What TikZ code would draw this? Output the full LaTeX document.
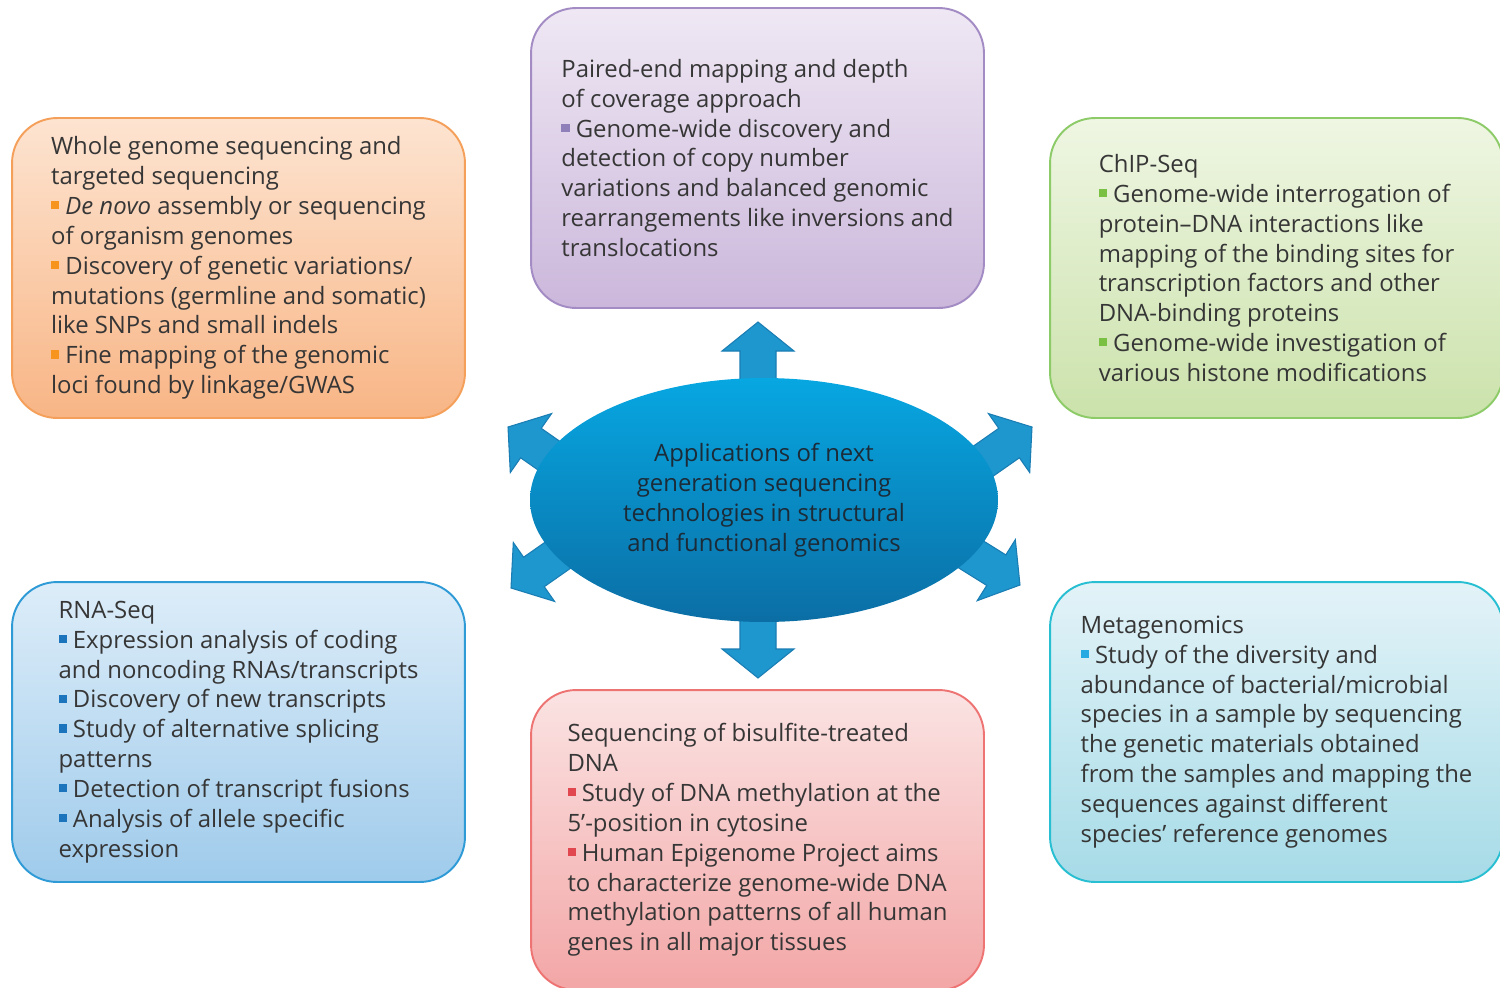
\documentclass[tikz,border=0pt]{standalone}
\usepackage{fontspec}
\setmainfont{Open Sans}
\usepackage{xcolor}
\usepackage{tikz}
\usetikzlibrary{positioning,shapes.geometric}
\definecolor{ngsTxt}{HTML}{363636}
\definecolor{ngsHubTxt}{HTML}{1C2B38}
\definecolor{ngsOr1}{HTML}{FDE4D1}
\definecolor{ngsOr2}{HTML}{F8B585}
\definecolor{ngsOr3}{HTML}{F5A05A}
\definecolor{ngsOrB}{HTML}{F7941E}
\definecolor{ngsPu1}{HTML}{EFE8F4}
\definecolor{ngsPu2}{HTML}{CBB7DB}
\definecolor{ngsPu3}{HTML}{A38BC4}
\definecolor{ngsPuB}{HTML}{8F80BA}
\definecolor{ngsGr1}{HTML}{EFF6E3}
\definecolor{ngsGr2}{HTML}{CBE2AB}
\definecolor{ngsGr3}{HTML}{8CCB68}
\definecolor{ngsGrB}{HTML}{7AC143}
\definecolor{ngsBl1}{HTML}{DDEDF9}
\definecolor{ngsBl2}{HTML}{9FCBEB}
\definecolor{ngsBl3}{HTML}{2E9AD6}
\definecolor{ngsBlB}{HTML}{1C75BC}
\definecolor{ngsPk1}{HTML}{FBE3E3}
\definecolor{ngsPk2}{HTML}{F3A6A6}
\definecolor{ngsPk3}{HTML}{EE7474}
\definecolor{ngsPkB}{HTML}{E1474F}
\definecolor{ngsTe1}{HTML}{E3F3F8}
\definecolor{ngsTe2}{HTML}{A6DBE7}
\definecolor{ngsTe3}{HTML}{29BFD2}
\definecolor{ngsTeB}{HTML}{27AAE1}
\definecolor{ngsHub1}{HTML}{07A7E2}
\definecolor{ngsHub2}{HTML}{0B6EA5}
\definecolor{ngsArr}{HTML}{1E96CE}
\definecolor{ngsArrE}{HTML}{1A7DB3}
\newcommand{\sqb}[1]{\textcolor{#1}{\rule[0.22em]{0.34em}{0.34em}}}

\begin{document}
\begin{tikzpicture}[x=0.02cm, y=-0.02cm,
  every node/.style={font=\fontsize{13.6}{17}\selectfont, text=ngsTxt},
  appbox/.style={rectangle, rounded corners=0.9cm, line width=1.1pt,
                 minimum width=9.06cm, minimum height=6cm, align=left, inner sep=0pt},
  hubnode/.style={ellipse, minimum width=9.36cm, minimum height=4.88cm, inner sep=0pt,
                  top color=ngsHub1, bottom color=ngsHub2, align=center, text=ngsHubTxt},
  fatarrow/.style={fill=ngsArr, draw=ngsArrE, line width=0.6pt}
]
  \useasboundingbox (0,0) rectangle (1500,987);

  % application boxes
  \node[appbox, draw=ngsOr3, top color=ngsOr1, bottom color=ngsOr2] (wgs) at (238.5,268)
    {Whole genome sequencing and\\ targeted sequencing\\ \sqb{ngsOrB} \textit{De novo} assembly or sequencing\\ of organism genomes\\ \sqb{ngsOrB} Discovery of genetic variations/\\ mutations (germline and somatic)\\ like SNPs and small indels\\ \sqb{ngsOrB} Fine mapping of the genomic\\ loci found by linkage/GWAS};
  \node[appbox, draw=ngsPu3, top color=ngsPu1, bottom color=ngsPu2] (pem) at (757.5,158)
    {Paired-end mapping and depth\\ of coverage approach\\ \sqb{ngsPuB} Genome-wide discovery and\\ detection of copy number\\ variations and balanced genomic\\ rearrangements like inversions and\\ translocations};
  \node[appbox, draw=ngsGr3, top color=ngsGr1, bottom color=ngsGr2] (chip) at (1276.5,268)
    {ChIP-Seq\\ \sqb{ngsGrB} Genome-wide interrogation of\\ protein--DNA interactions like\\ mapping of the binding sites for\\ transcription factors and other\\ DNA-binding proteins\\ \sqb{ngsGrB} Genome-wide investigation of\\ various histone modifications};
  \node[appbox, draw=ngsBl3, top color=ngsBl1, bottom color=ngsBl2] (rna) at (238.5,732)
    {RNA-Seq\\ \sqb{ngsBlB} Expression analysis of coding\\ and noncoding RNAs/transcripts\\ \sqb{ngsBlB} Discovery of new transcripts\\ \sqb{ngsBlB} Study of alternative splicing\\ patterns\\ \sqb{ngsBlB} Detection of transcript fusions\\ \sqb{ngsBlB} Analysis of allele specific\\ expression};
  \node[appbox, draw=ngsPk3, top color=ngsPk1, bottom color=ngsPk2] (bis) at (757.5,840)
    {Sequencing of bisulfite-treated\\ DNA\\ \sqb{ngsPkB} Study of DNA methylation at the\\ 5’-position in cytosine\\ \sqb{ngsPkB} Human Epigenome Project aims\\ to characterize genome-wide DNA\\ methylation patterns of all human\\ genes in all major tissues};
  \node[appbox, draw=ngsTe3, top color=ngsTe1, bottom color=ngsTe2] (meta) at (1276.5,732)
    {Metagenomics\\ \sqb{ngsTeB} Study of the diversity and\\ abundance of bacterial/microbial\\ species in a sample by sequencing\\ the genetic materials obtained\\ from the samples and mapping the\\ sequences against different\\ species’ reference genomes};

  % arrow tips round the hub
  \coordinate (tipN)  at (758,322);
  \coordinate (tipS)  at (758,678);
  \coordinate (tipNW) at (508,427);
  \coordinate (tipSW) at (511,588);
  \coordinate (tipNE) at (1032,427);
  \coordinate (tipSE) at (1020,585);
  \fill[fatarrow, shift={(tipN)},  rotate=90]  (0,0) -- (-29,36) -- (-29,18) -- (-85,18) -- (-85,-18) -- (-29,-18) -- (-29,-36) -- cycle;
  \fill[fatarrow, shift={(tipS)},  rotate=-90] (0,0) -- (-29,36) -- (-29,18) -- (-85,18) -- (-85,-18) -- (-29,-18) -- (-29,-36) -- cycle;
  \fill[fatarrow, shift={(tipNW)}, rotate=145] (0,0) -- (-28,36) -- (-28,18) -- (-80,18) -- (-80,-18) -- (-28,-18) -- (-28,-36) -- cycle;
  \fill[fatarrow, shift={(tipSW)}, rotate=215] (0,0) -- (-28,36) -- (-28,18) -- (-80,18) -- (-80,-18) -- (-28,-18) -- (-28,-36) -- cycle;
  \fill[fatarrow, shift={(tipNE)}, rotate=35]  (0,0) -- (-28,36) -- (-28,18) -- (-80,18) -- (-80,-18) -- (-28,-18) -- (-28,-36) -- cycle;
  \fill[fatarrow, shift={(tipSE)}, rotate=-32] (0,0) -- (-28,36) -- (-28,18) -- (-80,18) -- (-80,-18) -- (-28,-18) -- (-28,-36) -- cycle;

  % central hub
  \node[hubnode] (core) at (764,500)
    {Applications of next\\ generation sequencing\\ technologies in structural\\ and functional genomics};
\end{tikzpicture}
\end{document}
